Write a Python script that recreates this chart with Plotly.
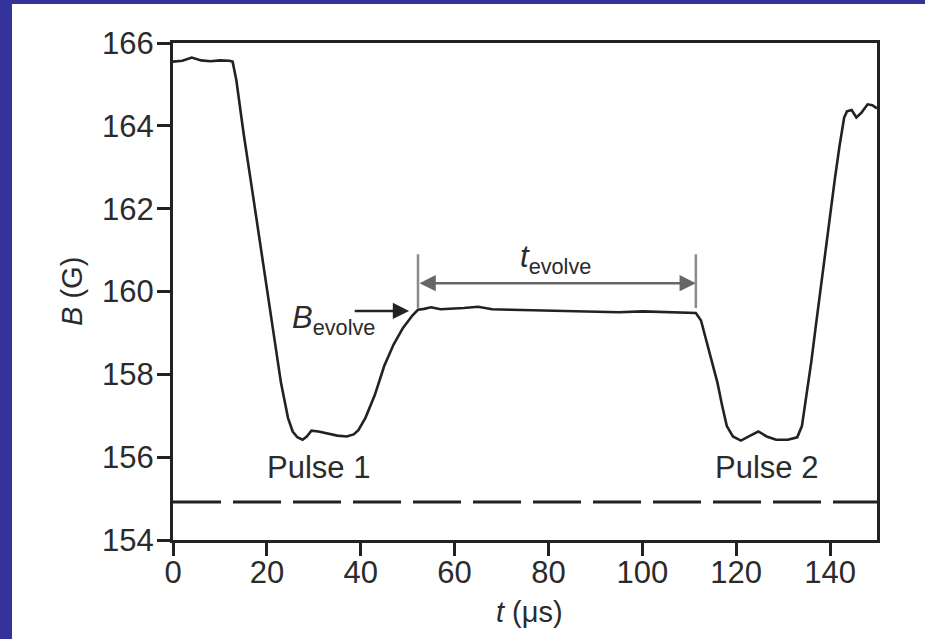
import plotly.graph_objects as go

# Data
t_us = [0, 2, 4, 6, 8, 10, 12, 12.7, 13.5, 15, 17, 19, 21, 23, 24.5, 25.5, 26.5, 27.6, 28.5, 29.5,
        31, 33, 35, 37, 38.5, 39.5, 41, 43, 45, 47, 49, 51, 52.2, 53.5, 55, 57, 59, 62, 65, 68,
        72, 76, 80, 85, 90, 95, 100, 104, 108, 111.4, 112.5, 114, 116, 117, 118, 119.3,
        121, 123, 124.7, 126.5, 128.5, 131, 133, 134, 135, 136, 137, 138, 139, 140, 141, 142, 143,
        143.6, 144.6, 145.6, 146.7, 148, 149, 150]
B_gauss = [165.55, 165.57, 165.65, 165.58, 165.56, 165.58, 165.57, 165.55, 165.1, 163.85, 162.35, 160.85,
           159.3, 157.8, 156.95, 156.62, 156.48, 156.42, 156.5, 156.64, 156.62, 156.57, 156.52, 156.5,
           156.55, 156.65, 156.95, 157.5, 158.2, 158.72, 159.12, 159.42, 159.56, 159.58, 159.62, 159.57,
           159.58, 159.6, 159.63, 159.57, 159.56, 159.55, 159.54, 159.52, 159.52, 159.5, 159.52, 159.5,
           159.49, 159.48, 159.3, 158.65, 157.8, 157.25, 156.75, 156.5, 156.4, 156.52, 156.62, 156.5,
           156.42, 156.42, 156.48, 156.75, 157.5, 158.3, 159.2, 160.1, 160.95, 161.8, 162.7, 163.5, 164.2,
           164.35, 164.38, 164.2, 164.32, 164.52, 164.5, 164.42]
dashed_level = 154.92
x_ticks = [0, 20, 40, 60, 80, 100, 120, 140]
y_ticks = [154, 156, 158, 160, 162, 164, 166]
t_start, t_end = 52.2, 111.4
B_evolve = 159.53
pulse_labels = ["Pulse 1", "Pulse 2"]
pulse_x = [30.9, 126.4]
pulse_y = 155.76

FONT = "Liberation Sans, Arial, sans-serif"
INK = "#222222"
TXT = "#2b2b2b"

fig = go.Figure()
fig.add_trace(go.Scatter(x=[0, 150], y=[dashed_level, dashed_level], mode="lines",
                         line=dict(color=INK, width=3, dash="48px,12px"), hoverinfo="skip"))
fig.add_trace(go.Scatter(x=t_us, y=B_gauss, mode="lines",
                         line=dict(color=INK, width=2.6), hoverinfo="skip"))

axis_common = dict(showline=True, linecolor=INK, linewidth=3, mirror=True, ticks="outside",
                   ticklen=13, tickwidth=3, tickcolor=INK, showgrid=False, zeroline=False,
                   tickfont=dict(family=FONT, size=31, color=TXT))
fig.update_xaxes(range=[0, 150], tickvals=x_ticks, ticklabelstandoff=-10, **axis_common)
fig.update_yaxes(range=[154, 166], tickvals=y_ticks, ticklabelstandoff=-3, **axis_common)

ann = []
for lab, px in zip(pulse_labels, pulse_x):
    ann.append(dict(x=px, y=pulse_y, xref="x", yref="y", text=lab, showarrow=False,
                    font=dict(family=FONT, size=31, color=TXT)))
ann.append(dict(x=81.6, y=160.79, xref="x", yref="y", text="<i>t</i><sub>evolve</sub>",
                showarrow=False, font=dict(family=FONT, size=31, color=TXT)))
ann.append(dict(x=24.9, y=159.31, xref="x", yref="y", xanchor="left",
                text="<i>B</i><sub>evolve</sub>", showarrow=False,
                font=dict(family=FONT, size=31, color=TXT)))
ann.append(dict(x=50.3, y=B_evolve, ax=38.4, ay=B_evolve, xref="x", yref="y", axref="x", ayref="y",
                text="", showarrow=True, arrowhead=2, arrowsize=1.3, arrowwidth=2.5, arrowcolor=INK))
ann.append(dict(x=t_end, y=160.2, ax=t_start, ay=160.2, xref="x", yref="y", axref="x", ayref="y",
                text="", showarrow=True, arrowhead=2, startarrowhead=2, arrowside="end+start",
                arrowsize=1.3, startarrowsize=1.3, arrowwidth=2.5, arrowcolor="#666666"))
ann.append(dict(x=-0.1435, y=0.501, xref="paper", yref="paper", xanchor="center", yanchor="middle",
                text="<i>B</i> (G)", textangle=-90,
                showarrow=False, font=dict(family=FONT, size=29, color=TXT)))
ann.append(dict(x=0.507, y=-0.145, xref="paper", yref="paper", xanchor="center", yanchor="middle",
                text="<i>t</i> (μs)",
                showarrow=False, font=dict(family=FONT, size=29, color=TXT)))

shapes = []
for xv in (t_start, t_end):
    shapes.append(dict(type="line", xref="x", yref="y", x0=xv, x1=xv, y0=159.6, y1=160.9,
                       line=dict(color="#8a8a8a", width=2.5)))
# blue frame strips of the slide
W, H = 704, 497
shapes.append(dict(type="rect", xref="paper", yref="paper", x0=-173 / W, x1=-161 / W,
                   y0=-99 / H, y1=(H + 43) / H, fillcolor="#333399", line=dict(width=0)))
shapes.append(dict(type="rect", xref="paper", yref="paper", x0=-173 / W, x1=(W + 48) / W,
                   y0=(H + 39) / H, y1=(H + 43) / H, fillcolor="#333399", line=dict(width=0)))

fig.update_layout(width=925, height=639, margin=dict(l=173, r=48, t=43, b=99),
                  paper_bgcolor="white", plot_bgcolor="white", showlegend=False,
                  annotations=ann, shapes=shapes)
fig.write_html("out.html", config={"displayModeBar": False},
               post_script="document.body.style.margin='0';document.body.style.overflow='hidden';")
